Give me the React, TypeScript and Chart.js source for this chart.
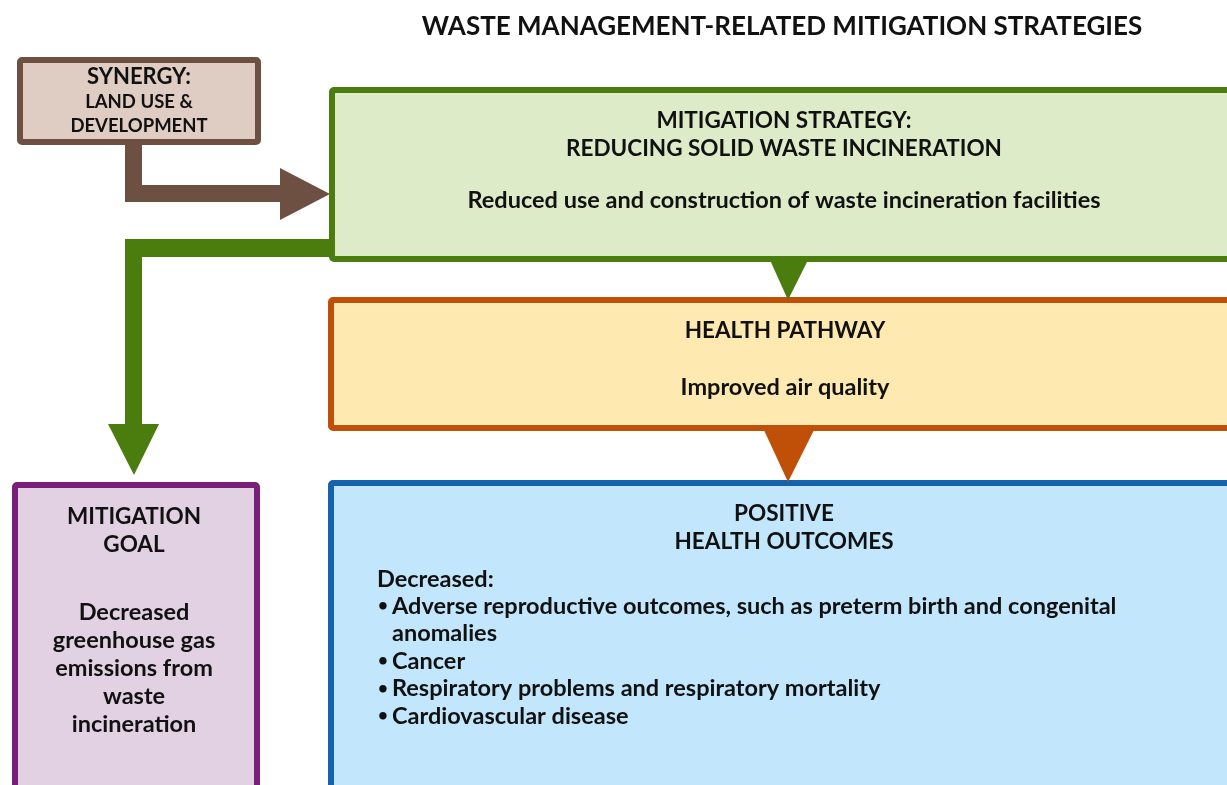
import React, { useEffect, useRef } from "react";
import { Chart, registerables } from "chart.js";

Chart.register(...registerables);

// ---- content ----
const chartTitle = "WASTE MANAGEMENT-RELATED MITIGATION STRATEGIES";
const synergyLines = ["SYNERGY:", "LAND USE &", "DEVELOPMENT"];
const strategyHeader = ["MITIGATION STRATEGY:", "REDUCING SOLID WASTE INCINERATION"];
const strategyBody = ["Reduced use and construction of waste incineration facilities"];
const pathwayHeader = ["HEALTH PATHWAY"];
const pathwayBody = ["Improved air quality"];
const outcomeHeader = ["POSITIVE", "HEALTH OUTCOMES"];
const outcomeIntro = ["Decreased:"];
const outcomeBullets = [
  ["Adverse reproductive outcomes, such as preterm birth and congenital", "anomalies"],
  ["Cancer"],
  ["Respiratory problems and respiratory mortality"],
  ["Cardiovascular disease"],
];
const goalHeader = ["MITIGATION", "GOAL"];
const goalBody = ["Decreased", "greenhouse gas", "emissions from", "waste", "incineration"];

// ---- layout (data units of the hidden linear scales) ----
const W = 1227;
const H = 785;
const FONT = "Lato, 'Open Sans', sans-serif";
const INK = "#111111";
const CAPS = 22.5;
const MIXED = 23.5;
const TEXT_DY = 2;

type Box = { x0: number; y0: number; x1: number; y1: number; lw: number; stroke: string; fill: string };
const boxes: Record<string, Box> = {
  synergy: { x0: 17, y0: 57, x1: 261, y1: 145, lw: 6, stroke: "#6E5042", fill: "#DFCCC3" },
  strategy: { x0: 329, y0: 87, x1: 1245, y1: 262, lw: 6, stroke: "#4B7D0E", fill: "#DDEBC8" },
  pathway: { x0: 328, y0: 297, x1: 1245, y1: 431, lw: 6, stroke: "#C05008", fill: "#FEE9B1" },
  outcome: { x0: 328, y0: 480, x1: 1245, y1: 800, lw: 6, stroke: "#1463AC", fill: "#C2E6FB" },
  goal: { x0: 12, y0: 482, x1: 260, y1: 800, lw: 6, stroke: "#782079", fill: "#E2D1E3" },
};

export default function App() {
  const ref = useRef<HTMLCanvasElement | null>(null);

  useEffect(() => {
    document.body.style.margin = "0";
    const canvas = ref.current!;

    const diagramPlugin = {
      id: "diagram",
      afterDatasetsDraw(chart: any) {
        const ctx: CanvasRenderingContext2D = chart.ctx;
        const sx = chart.scales.x;
        const sy = chart.scales.y;
        const X = (v: number) => sx.getPixelForValue(v);
        const Y = (v: number) => sy.getPixelForValue(v);

        const poly = (pts: number[][], color: string) => {
          ctx.beginPath();
          pts.forEach((p, i) => (i === 0 ? ctx.moveTo(X(p[0]), Y(p[1])) : ctx.lineTo(X(p[0]), Y(p[1]))));
          ctx.closePath();
          ctx.fillStyle = color;
          ctx.fill();
        };

        ctx.save();
        // connectors
        const brown = boxes.synergy.stroke;
        poly([[125, 140], [142, 140], [142, 185], [280, 185], [280, 168], [330, 194], [280, 220], [280, 202], [125, 202]], brown);
        const green = boxes.strategy.stroke;
        poly([[125, 239], [334, 239], [334, 257], [142, 257], [142, 424], [159, 424], [134, 475], [108, 424], [125, 424]], green);

        // boxes
        Object.values(boxes).forEach((b) => {
          const h = b.lw / 2;
          ctx.beginPath();
          ctx.roundRect(X(b.x0 + h), Y(b.y0 + h), X(b.x1 - h) - X(b.x0 + h), Y(b.y1 - h) - Y(b.y0 + h), 2);
          ctx.fillStyle = b.fill;
          ctx.fill();
          ctx.lineWidth = b.lw;
          ctx.strokeStyle = b.stroke;
          ctx.lineJoin = "round";
          ctx.stroke();
        });

        // triangles between boxes
        poly([[770, 260], [808, 260], [788, 300]], green);
        poly([[763, 428], [815, 428], [788, 482]], boxes.pathway.stroke);

        // text
        ctx.fillStyle = INK;
        ctx.textBaseline = "middle";
        const lines = (arr: string[], cx: number, y0: number, step: number, size: number, align: CanvasTextAlign = "center") => {
          ctx.font = `bold ${size}px ${FONT}`;
          ctx.textAlign = align;
          arr.forEach((t, i) => ctx.fillText(t, X(cx), Y(y0 + i * step + TEXT_DY)));
        };

        lines([chartTitle], 782, 25, 0, 26);
        lines([synergyLines[0]], 139, 75, 0, 22);
        lines(synergyLines.slice(1), 139, 100, 24, 18.5);
        lines(strategyHeader, 784, 119, 28, CAPS);
        lines(strategyBody, 784, 198, 0, MIXED);
        lines(pathwayHeader, 785, 329, 0, CAPS);
        lines(pathwayBody, 785, 385, 0, MIXED);
        lines(outcomeHeader, 784, 512, 28, CAPS);
        lines(outcomeIntro, 377, 577, 0, MIXED, "left");
        let row = 0;
        outcomeBullets.forEach((b) => {
          b.forEach((t, j) => {
            const y = 604 + row * 27.5;
            if (j === 0) lines(["•"], 378, y, 0, 17, "left");
            lines([t], 392, y, 0, MIXED, "left");
            row++;
          });
        });
        lines(goalHeader, 134, 515, 28, CAPS);
        lines(goalBody, 134, 610, 28, MIXED);
        ctx.restore();
      },
    };

    const chart = new Chart(canvas, {
      type: "scatter",
      data: { datasets: [{ data: [], showLine: false }] },
      options: {
        responsive: false,
        animation: false,
        devicePixelRatio: 1,
        layout: { padding: 0 },
        plugins: { legend: { display: false }, tooltip: { enabled: false }, title: { display: false } },
        scales: {
          x: { type: "linear", min: 0, max: W, display: false },
          y: { type: "linear", min: 0, max: H, reverse: true, display: false },
        },
      },
      plugins: [diagramPlugin],
    });
    return () => chart.destroy();
  }, []);

  return (
    <div style={{ width: W, height: H, background: "#ffffff" }}>
      <canvas ref={ref} width={W} height={H} style={{ display: "block" }} />
    </div>
  );
}
